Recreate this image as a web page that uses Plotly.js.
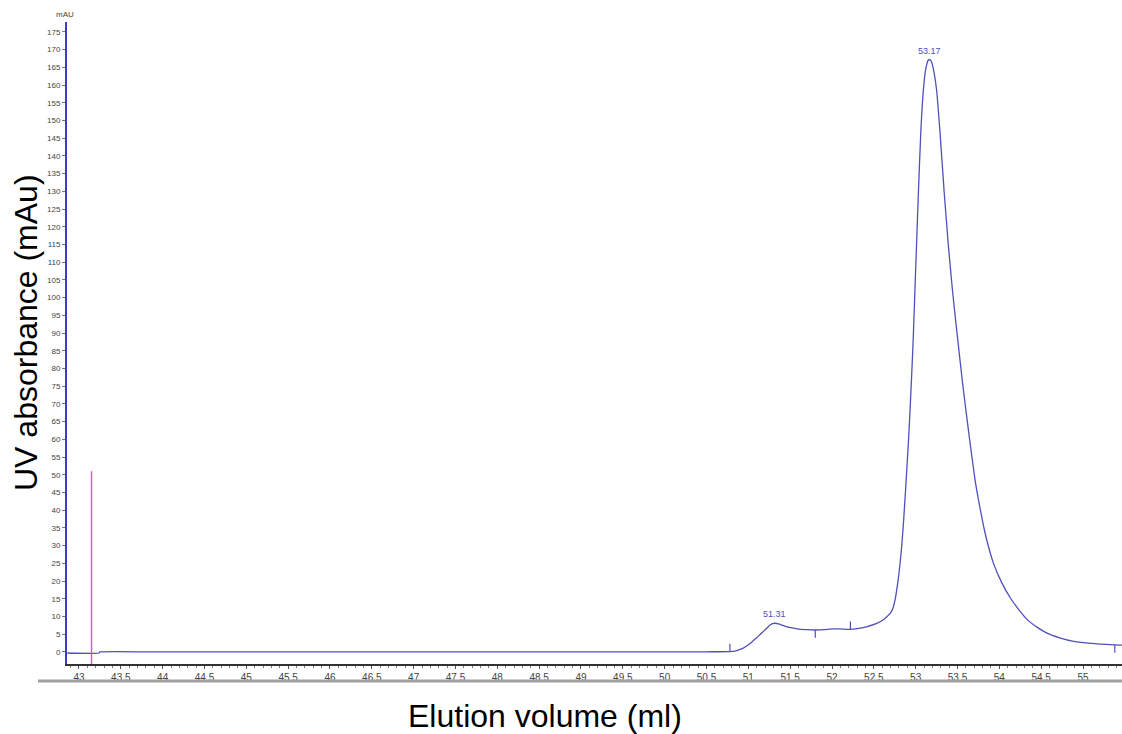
<!DOCTYPE html>
<html>
<head>
<meta charset="utf-8">
<script src="https://cdn.plot.ly/plotly-3.0.1.min.js"></script>
<style>html,body{margin:0;padding:0;background:#fff;}#chart{width:1122px;height:734px;}</style>
</head>
<body>
<div id="chart"></div>
<script>
// Elution volume (ml) and UV absorbance (mAU)
const elutionVol = [42.86, 43.24, 43.25, 44, 45, 46, 47, 48, 49, 50, 50.5, 50.78,
  50.85, 50.90, 50.94, 50.98, 51.02, 51.06, 51.10, 51.14, 51.18, 51.22, 51.26, 51.29, 51.32, 51.36, 51.41, 51.46, 51.54, 51.62, 51.70, 51.80, 51.90, 52.02, 52.10, 52.21, 52.30, 52.41, 52.52,
  52.61, 52.65, 52.70, 52.73, 52.76, 52.78, 52.80, 52.83, 52.85, 52.88, 52.92, 52.95, 52.97, 53.00, 53.03, 53.06, 53.09, 53.12, 53.15, 53.17, 53.19, 53.22, 53.25, 53.29, 53.34, 53.39, 53.44, 53.49, 53.56, 53.63, 53.71, 53.77, 53.83, 53.93, 54.03, 54.13, 54.23, 54.33, 54.45, 54.57, 54.72, 54.89, 55.10, 55.37, 55.47];
const absorbance = [-0.3, -0.3, 0, 0, 0, 0, 0, 0, 0, 0, 0.05, 0.1,
  0.3, 0.7, 1.1, 1.7, 2.4, 3.2, 4.0, 4.9, 5.8, 6.7, 7.6, 8.0, 8.1, 7.9, 7.5, 7.1, 6.7, 6.4, 6.3, 6.2, 6.3, 6.5, 6.5, 6.4, 6.6, 7.1, 7.9,
  9.0, 9.8, 11.0, 12.5, 15.5, 18.5, 22.0, 29.0, 35.0, 46.0, 62.0, 77.0, 88.0, 108.0, 128.0, 146.0, 158.0, 164.5, 167.0, 167.2, 166.5, 163.5, 158.6, 147.0, 130.0, 115.0, 102.0, 90.9, 76.0, 62.7, 48.5, 40.5, 33.5, 25.0, 19.5, 15.3, 12.0, 9.2, 7.0, 5.3, 4.0, 3.0, 2.4, 2.0, 1.9];

// Peak labels
const peakVol = [51.31, 53.17];
const peakAbs = [8.1, 167.2];
const peakLabels = ["51.31", "53.17"];

// Fraction marks: position, curve value, direction (+1 up, -1 down)
const fracVol = [50.78, 51.80, 52.22, 55.38];
const fracAbs = [0.1, 6.2, 6.4, 2.0];
const fracDir = [1, -1, 1, -1];
const fracLen = 2.2;

// Injection mark
const injectVol = 43.15;
const injectTop = 51;

const yMin = -3.4, yMax = 177.8;
const xMin = 42.857, xMax = 55.466;

const yTicks = [0,5,10,15,20,25,30,35,40,45,50,55,60,65,70,75,80,85,90,95,100,105,110,115,120,125,130,135,140,145,150,155,160,165,170,175];
const xTicks = [43,43.5,44,44.5,45,45.5,46,46.5,47,47.5,48,48.5,49,49.5,50,50.5,51,51.5,52,52.5,53,53.5,54,54.5,55];

const fx = [], fy = [];
fracVol.forEach((v, i) => {
  fx.push(v, v, null);
  fy.push(fracAbs[i], fracAbs[i] + fracDir[i] * fracLen, null);
});

const traces = [
  {
    x: elutionVol, y: absorbance, type: 'scatter', mode: 'lines',
    line: {color: '#5050bb', width: 1.3, shape: 'spline', smoothing: 0.5},
    hoverinfo: 'skip', showlegend: false
  },
  {
    x: fx, y: fy, type: 'scatter', mode: 'lines',
    line: {color: '#5050bb', width: 1.2},
    hoverinfo: 'skip', showlegend: false
  },
  {
    x: [injectVol, injectVol], y: [yMin, injectTop], type: 'scatter', mode: 'lines',
    line: {color: '#f040f0', width: 1.4},
    hoverinfo: 'skip', showlegend: false
  }
];

const annotations = peakVol.map((v, i) => ({
  x: v, y: peakAbs[i], xref: 'x', yref: 'y', text: peakLabels[i],
  showarrow: false, yanchor: 'bottom', yshift: 2,
  font: {family: 'Liberation Sans, Arial', size: 9, color: '#5050bb'}
}));
annotations.push({
  x: -0.002, y: 1, xref: 'paper', yref: 'paper', text: 'mAU', showarrow: false,
  xanchor: 'center', yanchor: 'bottom', yshift: 1,
  font: {family: 'Liberation Sans, Arial', size: 8, color: '#444'}
});
annotations.push({
  x: (26 - 67) / 1055, y: (664 - 333) / 642, xref: 'paper', yref: 'paper',
  text: 'UV absorbance (mAu)', showarrow: false, textangle: -90,
  xanchor: 'center', yanchor: 'middle',
  font: {family: 'Liberation Sans, Arial', size: 32, color: '#000'}
});
annotations.push({
  x: (545 - 67) / 1055, y: (664 - 716) / 642, xref: 'paper', yref: 'paper',
  text: 'Elution volume (ml)', showarrow: false,
  xanchor: 'center', yanchor: 'middle',
  font: {family: 'Liberation Sans, Arial', size: 32, color: '#000'}
});

const layout = {
  width: 1122, height: 734,
  margin: {l: 67, r: 0, t: 22, b: 70},
  paper_bgcolor: '#fff', plot_bgcolor: '#fff',
  showlegend: false,
  xaxis: {
    range: [xMin, xMax], tickvals: xTicks, ticktext: xTicks.map(String),
    showgrid: false, zeroline: false, showline: true, linecolor: '#333', linewidth: 2,
    ticks: 'outside', ticklen: 3, tickcolor: '#555', tickwidth: 1,
    minor: {dtick: 0.1, tick0: 43, ticks: 'outside', ticklen: 2, tickcolor: '#777', showgrid: false},
    tickfont: {family: 'Liberation Sans, Arial', size: 10, color: '#444'},
    fixedrange: true
  },
  yaxis: {
    range: [yMin, yMax], tickvals: yTicks, ticktext: yTicks.map(String),
    showgrid: false, zeroline: false, showline: true, linecolor: '#3a3ad0', linewidth: 2,
    ticks: 'outside', ticklen: 3, tickcolor: '#777', tickwidth: 1,
    tickfont: {family: 'Liberation Sans, Arial', size: 8, color: '#444'},
    fixedrange: true
  },
  shapes: [
    {type: 'line', xref: 'paper', yref: 'paper', x0: (38 - 67) / 1055, x1: 1,
     y0: (664 - 681) / 642, y1: (664 - 681) / 642, line: {color: '#a0a0a0', width: 3}}
  ],
  annotations: annotations
};

Plotly.newPlot('chart', traces, layout, {displayModeBar: false, staticPlot: true});
</script>
</body>
</html>
